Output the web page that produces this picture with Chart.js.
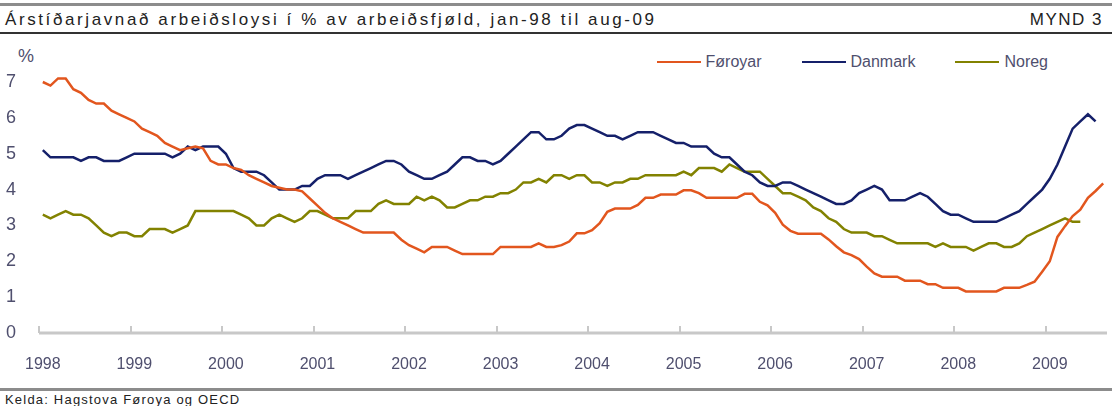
<!DOCTYPE html>
<html>
<head>
<meta charset="utf-8">
<script src="https://cdn.jsdelivr.net/npm/chart.js"></script>
<style>
  body { margin: 0; width: 1112px; height: 406px; background: #fff; position: relative; overflow: hidden; font-family: 'Liberation Sans', Arial, sans-serif; }
  .rule { position: absolute; left: 0; width: 1112px; }
  .title { position: absolute; left: 5px; top: 10px; font-size: 17px; letter-spacing: 2.6px; color: #222; white-space: nowrap; }
  .mynd { position: absolute; right: 9px; top: 10px; font-size: 17px; letter-spacing: 1.5px; color: #222; }
  .pct { position: absolute; left: 18px; top: 46px; font-size: 18px; color: #4f4f6e; }
  #legend { position: absolute; right: 64px; top: 53px; display: flex; gap: 40px; font-size: 16px; color: #4f4f6e; }
  #legend span.item { display: flex; align-items: center; }
  #legend span.swatch { display: inline-block; width: 44px; height: 2.5px; margin-right: 5px; }
  #wrap { position: absolute; left: 0; top: 40px; width: 1112px; height: 345px; }
  .source { position: absolute; left: 5px; top: 392px; font-size: 13px; letter-spacing: 1.2px; color: #222; }
</style>
</head>
<body>
<div class="rule" style="top:3px;height:3px;background:#8c8c8c"></div>
<div class="title">Árstíðarjavnað arbeiðsloysi í % av arbeiðsfjøld, jan-98 til aug-09</div>
<div class="mynd">MYND 3</div>
<div class="rule" style="top:32px;height:2px;background:#333"></div>
<div class="pct">%</div>
<div id="legend"></div>
<div id="wrap"><canvas id="chart" width="1112" height="345"></canvas></div>
<div class="rule" style="top:388px;height:3px;background:#8c8c8c"></div>
<div class="source">Kelda: Hagstova Føroya og OECD</div>
<script>
const years = ['1998', '1999', '2000', '2001', '2002', '2003', '2004', '2005', '2006', '2007', '2008', '2009'];
const monthNames = ['jan', 'feb', 'mar', 'apr', 'mai', 'jun', 'jul', 'aug', 'sep', 'okt', 'nov', 'des'];
const months = [];
years.forEach(y => monthNames.forEach(m => months.push(m + '-' + y.slice(2))));
months.length = 140; // jan-98 .. aug-09

const foroyar = [
  7.0, 6.9, 7.1, 7.1, 6.8, 6.7, 6.5, 6.4, 6.4, 6.2, 6.1, 6.0,
  5.9, 5.7, 5.6, 5.5, 5.3, 5.2, 5.1, 5.15, 5.2, 5.15, 4.8, 4.7,
  4.7, 4.6, 4.55, 4.4, 4.3, 4.2, 4.1, 4.05, 4.0, 4.0, 3.95, 3.75,
  3.55, 3.35, 3.2, 3.1, 3.0, 2.9, 2.8, 2.8, 2.8, 2.8, 2.8, 2.6,
  2.45, 2.35, 2.25, 2.4, 2.4, 2.4, 2.3, 2.2, 2.2, 2.2, 2.2, 2.2,
  2.4, 2.4, 2.4, 2.4, 2.4, 2.5, 2.4, 2.4, 2.45, 2.55, 2.78, 2.78,
  2.87, 3.06, 3.38, 3.47, 3.47, 3.47, 3.57, 3.77, 3.77, 3.86, 3.86, 3.86,
  3.98, 3.98, 3.9, 3.77, 3.77, 3.77, 3.77, 3.77, 3.88, 3.88, 3.66, 3.56,
  3.35, 3.02, 2.85, 2.77, 2.77, 2.77, 2.77, 2.61, 2.42, 2.25, 2.17, 2.06,
  1.85, 1.66, 1.57, 1.57, 1.57, 1.46, 1.46, 1.46, 1.36, 1.36, 1.26, 1.26,
  1.26, 1.16, 1.16, 1.16, 1.16, 1.16, 1.26, 1.26, 1.26, 1.34, 1.43, 1.71,
  2.0, 2.68, 2.98, 3.26, 3.44, 3.77, 3.96, 4.17
];
const danmark = [
  5.1, 4.9, 4.9, 4.9, 4.9, 4.8, 4.9, 4.9, 4.8, 4.8, 4.8, 4.9,
  5.0, 5.0, 5.0, 5.0, 5.0, 4.9, 5.0, 5.2, 5.1, 5.2, 5.2, 5.2,
  5.0, 4.6, 4.5, 4.5, 4.5, 4.4, 4.2, 4.0, 4.0, 4.0, 4.1, 4.1,
  4.3, 4.4, 4.4, 4.4, 4.3, 4.4, 4.5, 4.6, 4.7, 4.8, 4.8, 4.7,
  4.5, 4.4, 4.3, 4.3, 4.4, 4.5, 4.7, 4.9, 4.9, 4.8, 4.8, 4.7,
  4.8, 5.0, 5.2, 5.4, 5.6, 5.6, 5.4, 5.4, 5.5, 5.7, 5.8, 5.8,
  5.7, 5.6, 5.5, 5.5, 5.4, 5.5, 5.6, 5.6, 5.6, 5.5, 5.4, 5.3,
  5.3, 5.2, 5.2, 5.2, 5.0, 4.9, 4.9, 4.7, 4.5, 4.4, 4.2, 4.1,
  4.1, 4.2, 4.2, 4.1, 4.0, 3.9, 3.8, 3.7, 3.6, 3.6, 3.7, 3.9,
  4.0, 4.1, 4.0, 3.7, 3.7, 3.7, 3.8, 3.9, 3.8, 3.6, 3.4, 3.3,
  3.3, 3.2, 3.1, 3.1, 3.1, 3.1, 3.2, 3.3, 3.4, 3.6, 3.8, 4.0,
  4.3, 4.7, 5.2, 5.7, 5.9, 6.1, 5.9, null
];
const noreg = [
  3.3, 3.2, 3.3, 3.4, 3.3, 3.3, 3.2, 3.0, 2.8, 2.7, 2.8, 2.8,
  2.7, 2.7, 2.9, 2.9, 2.9, 2.8, 2.9, 3.0, 3.4, 3.4, 3.4, 3.4,
  3.4, 3.4, 3.3, 3.2, 3.0, 3.0, 3.2, 3.3, 3.2, 3.1, 3.2, 3.4,
  3.4, 3.3, 3.2, 3.2, 3.2, 3.4, 3.4, 3.4, 3.6, 3.7, 3.6, 3.6,
  3.6, 3.8, 3.7, 3.8, 3.7, 3.5, 3.5, 3.6, 3.7, 3.7, 3.8, 3.8,
  3.9, 3.9, 4.0, 4.2, 4.2, 4.3, 4.2, 4.4, 4.4, 4.3, 4.4, 4.4,
  4.2, 4.2, 4.1, 4.2, 4.2, 4.3, 4.3, 4.4, 4.4, 4.4, 4.4, 4.4,
  4.5, 4.4, 4.6, 4.6, 4.6, 4.5, 4.7, 4.6, 4.5, 4.5, 4.5, 4.3,
  4.1, 3.9, 3.9, 3.8, 3.7, 3.5, 3.4, 3.2, 3.1, 2.9, 2.8, 2.8,
  2.8, 2.7, 2.7, 2.6, 2.5, 2.5, 2.5, 2.5, 2.5, 2.4, 2.5, 2.4,
  2.4, 2.4, 2.3, 2.4, 2.5, 2.5, 2.4, 2.4, 2.5, 2.7, 2.8, 2.9,
  3.0, 3.1, 3.2, 3.1, 3.1, null, null, null
];
const yTicks = [0, 1, 2, 3, 4, 5, 6, 7];

const axisFont = "'Liberation Sans', Arial, sans-serif";
const labelColor = '#4f4f6e';

// grey base line with short year ticks pointing up
const yearAxis = {
  id: 'yearAxis',
  beforeDatasetsDraw(chart) {
    const { ctx, chartArea: a, scales: { x } } = chart;
    const step = x.getPixelForValue(1) - x.getPixelForValue(0);
    ctx.save();
    ctx.strokeStyle = '#c8c8c8';
    ctx.lineWidth = 3;
    ctx.beginPath();
    ctx.moveTo(a.left, a.bottom);
    ctx.lineTo(a.right, a.bottom);
    ctx.stroke();
    ctx.lineWidth = 2;
    ctx.beginPath();
    for (let i = 0; i < months.length; i += 12) {
      const px = Math.round(x.getPixelForValue(i) - step / 2);
      ctx.moveTo(px, a.bottom - 7);
      ctx.lineTo(px, a.bottom);
    }
    ctx.stroke();
    ctx.restore();
  }
};

// legend as html, taken from the datasets
const htmlLegend = {
  id: 'htmlLegend',
  afterUpdate(chart) {
    const box = document.getElementById('legend');
    box.innerHTML = '';
    chart.data.datasets.forEach(ds => {
      const item = document.createElement('span');
      item.className = 'item';
      item.innerHTML = '<span class="swatch" style="background:' + ds.borderColor + '"></span>' + ds.label;
      box.appendChild(item);
    });
  }
};

new Chart(document.getElementById('chart'), {
  type: 'line',
  data: {
    labels: months,
    datasets: [
      { label: 'Føroyar', data: foroyar, borderColor: '#e2561e' },
      { label: 'Danmark', data: danmark, borderColor: '#15206a' },
      { label: 'Noreg', data: noreg, borderColor: '#828200' }
    ]
  },
  options: {
    responsive: false,
    animation: false,
    layout: { padding: { top: 42, right: 5, left: 0, bottom: 0 } },
    elements: {
      line: { borderWidth: 2.5, tension: 0 },
      point: { radius: 0 }
    },
    datasets: { line: { clip: false } },
    plugins: {
      legend: { display: false },
      tooltip: { enabled: false }
    },
    scales: {
      x: {
        type: 'category',
        offset: true,
        grid: { display: false },
        border: { display: false },
        afterFit: s => { s.height = 52; },
        ticks: {
          autoSkip: false,
          maxRotation: 0,
          padding: 14,
          color: labelColor,
          font: { family: axisFont, size: 16 },
          callback: (v, i) => (i % 12 === 0 ? years[i / 12] : null)
        }
      },
      y: {
        min: 0,
        max: 7,
        grid: { display: false },
        border: { display: false },
        afterFit: s => { s.width = 39; },
        afterBuildTicks: s => { s.ticks = yTicks.map(v => ({ value: v })); },
        ticks: {
          padding: 15,
          color: labelColor,
          font: { family: axisFont, size: 18 }
        }
      }
    }
  },
  plugins: [yearAxis, htmlLegend]
});
</script>
</body>
</html>
